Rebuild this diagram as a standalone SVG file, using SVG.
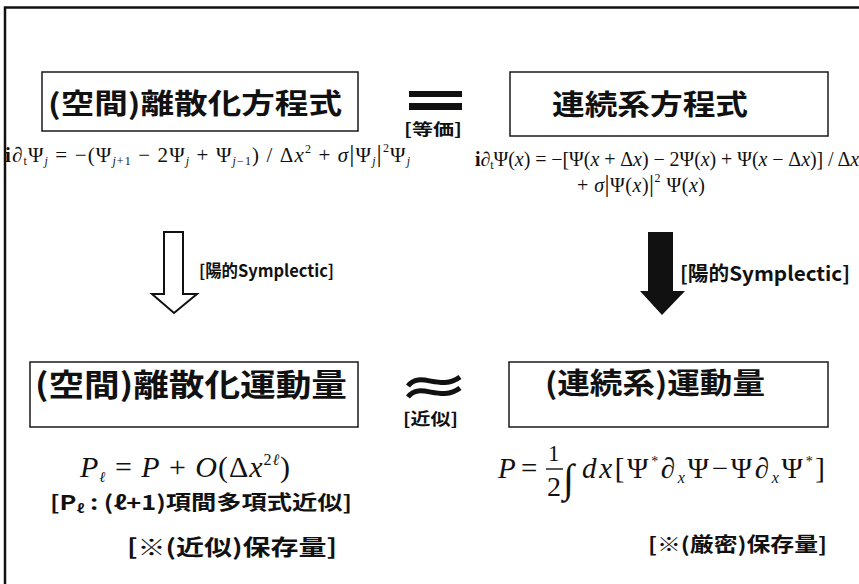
<svg xmlns="http://www.w3.org/2000/svg" width="859" height="584" viewBox="0 0 859 584">
<style>
.box{fill:#fff;stroke:#1a1a1a;stroke-width:1.5}
.jp{font-family:"Noto Sans CJK JP","Noto Sans",sans-serif;fill:#111;font-weight:700}
.m{font-family:"Liberation Serif","Times New Roman",serif;fill:#111}
.it{font-style:italic}
</style>
<rect width="859" height="584" fill="#fff"/>
<g id="frame"><path d="M5,584 V7.5 H859" fill="none" stroke="#111" stroke-width="2.5"/></g>

<g id="node-discrete-eq">
<rect class="box" x="42" y="72" width="316" height="59"/>
<text class="jp" x="48" y="114" font-size="28" textLength="294" lengthAdjust="spacingAndGlyphs" font-weight="500">(空間)離散化方程式</text>
<text class="m" x="5" y="162" font-size="21" textLength="405" lengthAdjust="spacing"><tspan font-weight="bold">i</tspan><tspan class="it">∂</tspan><tspan font-size="12" dy="3">t</tspan><tspan dy="-3">Ψ</tspan><tspan class="it" font-size="12" dy="3">j</tspan><tspan dy="-3"> = −(Ψ</tspan><tspan font-size="12" dy="3"><tspan class="it">j</tspan>+1</tspan><tspan dy="-3"> − 2Ψ</tspan><tspan class="it" font-size="12" dy="3">j</tspan><tspan dy="-3"> + Ψ</tspan><tspan font-size="12" dy="3"><tspan class="it">j</tspan>−1</tspan><tspan dy="-3">) / Δ</tspan><tspan class="it">x</tspan><tspan font-size="12" dy="-9">2</tspan><tspan dy="9"> + </tspan><tspan class="it">σ</tspan><tspan font-size="26">|</tspan>Ψ<tspan class="it" font-size="12" dy="3">j</tspan><tspan dy="-3" font-size="26">|</tspan><tspan font-size="12" dy="-10">2</tspan><tspan dy="10">Ψ</tspan><tspan class="it" font-size="12" dy="3">j</tspan></text>
</g>

<g id="node-continuous-eq">
<rect class="box" x="510" y="72" width="318" height="64"/>
<text class="jp" x="552" y="115" font-size="28" textLength="196" lengthAdjust="spacingAndGlyphs" font-weight="500">連続系方程式</text>
<text class="m" x="475" y="166" font-size="20" textLength="390" lengthAdjust="spacing"><tspan font-weight="bold">i</tspan><tspan class="it">∂</tspan><tspan font-size="12" dy="3">t</tspan><tspan dy="-3">Ψ(</tspan><tspan class="it">x</tspan>) = −[Ψ(<tspan class="it">x</tspan> + Δ<tspan class="it">x</tspan>) − 2Ψ(<tspan class="it">x</tspan>) + Ψ(<tspan class="it">x</tspan> − Δ<tspan class="it">x</tspan>)] / Δ<tspan class="it">x</tspan><tspan font-size="12" dy="-9">2</tspan></text>
<text class="m" x="577" y="192" font-size="20" textLength="128" lengthAdjust="spacing">+ <tspan class="it">σ</tspan><tspan font-size="25">|</tspan>Ψ(<tspan class="it">x</tspan>)<tspan font-size="25">|</tspan><tspan font-size="12" dy="-10">2</tspan><tspan dy="10"> Ψ(</tspan><tspan class="it">x</tspan>)</text>
</g>

<g id="node-discrete-mom">
<rect class="box" x="30" y="362" width="328" height="65"/>
<text class="jp" x="35" y="396" font-size="31" textLength="312" lengthAdjust="spacingAndGlyphs" font-weight="500">(空間)離散化運動量</text>
<text class="m it" x="80" y="477" font-size="30" textLength="210" lengthAdjust="spacing">P<tspan font-size="15" dy="5">ℓ</tspan><tspan dy="-5" font-style="normal"> = </tspan>P<tspan font-style="normal"> + </tspan>O<tspan font-style="normal">(Δ</tspan>x<tspan font-size="16" dy="-12"><tspan font-style="normal">2</tspan>ℓ</tspan><tspan dy="12" font-style="normal">)</tspan></text>
<text class="jp" x="50" y="510" font-size="20" textLength="302" lengthAdjust="spacingAndGlyphs">[P<tspan font-size="12" dy="3">ℓ</tspan><tspan dy="-3"> : (ℓ+1)項間多項式近似]</tspan></text>
<text class="jp" x="127" y="555" font-size="22" textLength="210" lengthAdjust="spacingAndGlyphs">[※(近似)保存量]</text>
</g>

<g id="node-continuous-mom">
<rect class="box" x="509" y="362" width="319" height="65"/>
<text class="jp" x="545" y="394" font-size="29" textLength="220" lengthAdjust="spacingAndGlyphs" font-weight="500">(連続系)運動量</text>
<text class="m it" x="498" y="478" font-size="29">P</text>
<text class="m" x="521" y="478" font-size="29">=</text>
<text class="m" x="548" y="461" font-size="23">1</text>
<line x1="546" y1="469" x2="563" y2="469" stroke="#111" stroke-width="1.4"/>
<text class="m" x="547" y="496" font-size="28">2</text>
<text class="m it" x="563" y="492" font-size="40">∫</text>
<text class="m" x="582" y="478" font-size="29" textLength="243" lengthAdjust="spacing"><tspan class="it">dx</tspan>[Ψ<tspan font-size="14" dy="-12">*</tspan><tspan dy="12" class="it">∂</tspan><tspan class="it" font-size="16" dy="5">x</tspan><tspan dy="-5">Ψ−Ψ</tspan><tspan class="it">∂</tspan><tspan class="it" font-size="16" dy="5">x</tspan><tspan dy="-5">Ψ</tspan><tspan font-size="14" dy="-12">*</tspan><tspan dy="12">]</tspan></text>
<text class="jp" x="648" y="552" font-size="20" textLength="179" lengthAdjust="spacingAndGlyphs">[※(厳密)保存量]</text>
</g>

<g id="connectors">
<g id="equiv">
<rect x="409" y="91" width="53" height="6" fill="#111"/>
<rect x="409" y="103" width="53" height="7" fill="#111"/>
<text class="jp" x="404" y="135" font-size="16" textLength="58" lengthAdjust="spacingAndGlyphs">[等価]</text>
</g>
<g id="approx">
<path d="M408,386 C420,370 440,392 460,377" fill="none" stroke="#111" stroke-width="5"/>
<path d="M408,397 C420,381 440,403 460,388" fill="none" stroke="#111" stroke-width="5"/>
<text class="jp" x="403" y="425" font-size="17" textLength="55" lengthAdjust="spacingAndGlyphs">[近似]</text>
</g>
<g id="arrow-left">
<path d="M164,232 H183 V294 H197 L174,313 L152,294 H164 Z" fill="#fff" stroke="#111" stroke-width="2"/>
<text class="jp" x="199" y="277" font-size="17" textLength="135" lengthAdjust="spacingAndGlyphs">[陽的Symplectic]</text>
</g>
<g id="arrow-right">
<path d="M648,232 H673 V291 H685 L662,315 L640,291 H648 Z" fill="#111"/>
<text class="jp" x="680" y="281" font-size="20" textLength="170" lengthAdjust="spacingAndGlyphs">[陽的Symplectic]</text>
</g>
</g>
</svg>
